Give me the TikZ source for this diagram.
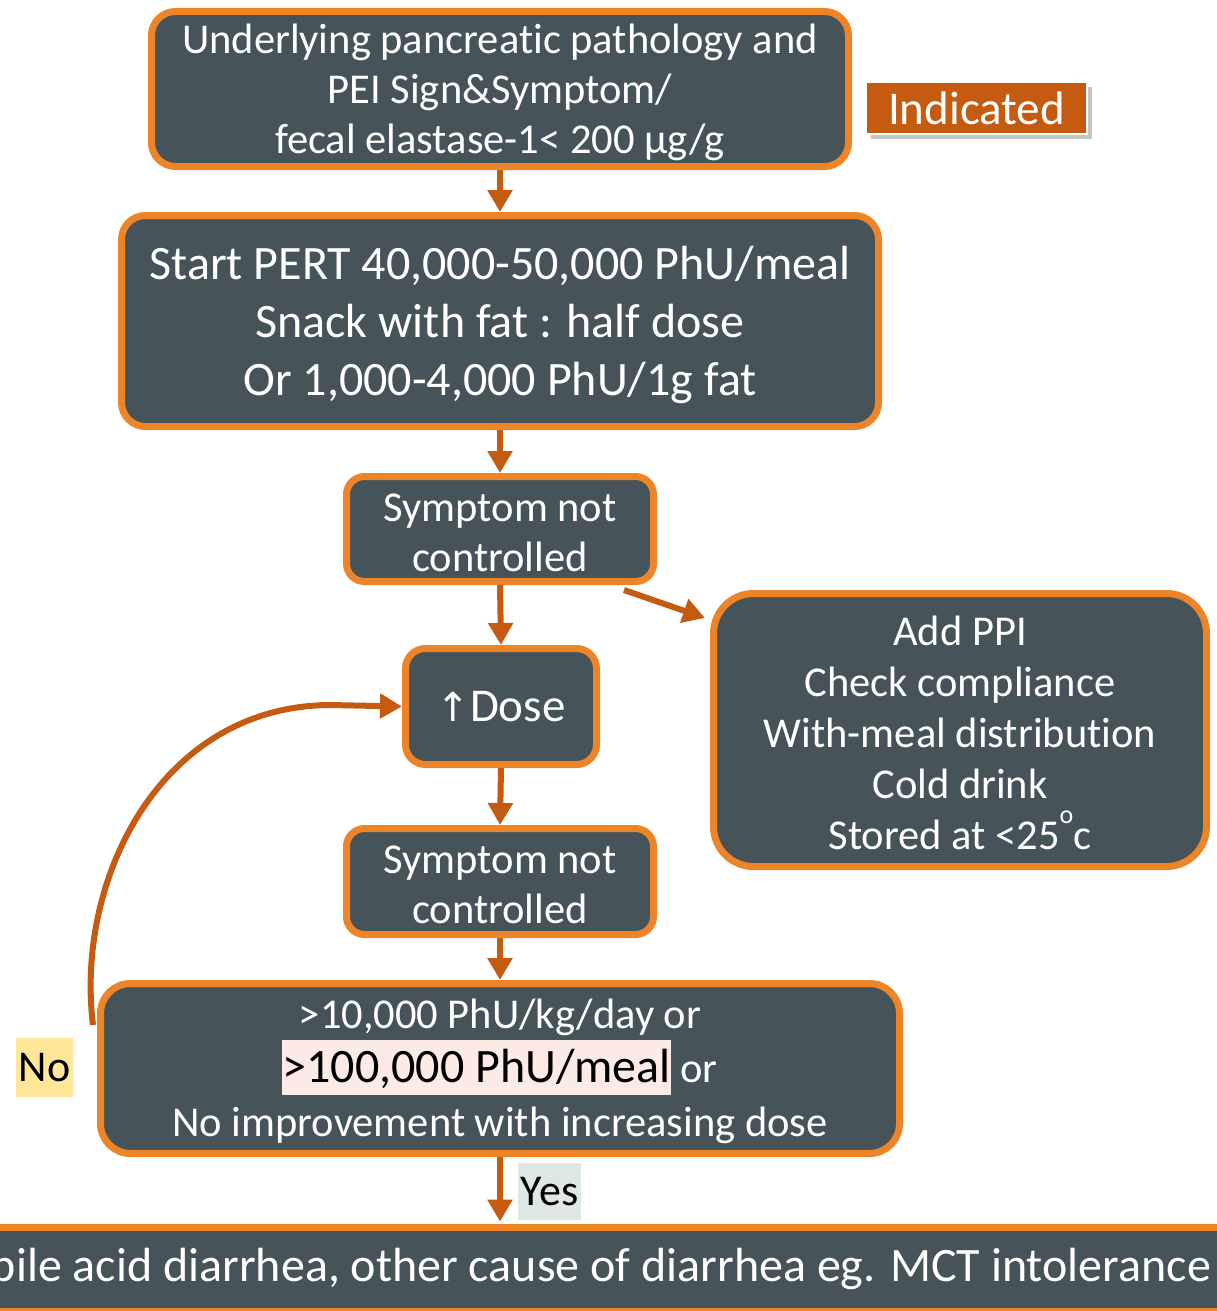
\documentclass[tikz,border=0pt]{standalone}
\usepackage{fontspec}
\setmainfont{Carlito}[Ligatures=NoCommon]
\newfontfamily\symf{DejaVu Sans}
\usetikzlibrary{arrows.meta,shadows,calc}
\definecolor{slate}{RGB}{70,83,89}
\definecolor{orng}{RGB}{237,132,40}
\definecolor{darkorng}{RGB}{197,90,17}
\definecolor{hlpink}{RGB}{251,234,229}
\definecolor{noyel}{RGB}{255,230,153}
\definecolor{yesgray}{RGB}{222,231,227}
\newcommand{\fs}[2]{\fontsize{#1}{#2}\selectfont}
\tikzset{
  box/.style={draw=orng, fill=slate, line width=7pt, rounded corners=24pt, text=white, align=center, inner sep=0pt},
  arr/.style={draw=darkorng, line width=6pt, -{Triangle[length=22pt,width=24pt]}},
  lbl/.style={inner sep=0pt, text=black, anchor=center},
}
\begin{document}
\begin{tikzpicture}[x=1pt,y=-1pt]
\useasboundingbox (0,0) rectangle (1217,1311);
\clip (0,0) rectangle (1217,1311);
\fill[white] (0,0) rectangle (1217,1311);

\node[box, font=\fs{42.5}{50}, minimum width=697pt, minimum height=155pt] (b1) at (500,89)
  {\rule{0pt}{36pt}Underlying pancreatic pathology and\\PEI Sign\&Symptom/\\fecal elastase-1< 200 µg/g};

\node[fill=darkorng, draw=white, line width=2pt, text=white, inner sep=0pt, font=\fs{47}{50},
  minimum width=221pt, minimum height=52pt,
  drop shadow={shadow xshift=5pt, shadow yshift=-5pt, opacity=0.45, fill=gray}] (ind) at (976.5,108)
  {Indicated};

\node[box, font=\fs{48}{58}, minimum width=757pt, minimum height=211pt] (b2) at (500,321)
  {\rule{0pt}{42pt}Start PERT 40,000-50,000 PhU/meal\\Snack with fat : half dose\\Or 1,000-4,000 PhU/1g fat};

\node[box, font=\fs{42.5}{50}, rounded corners=18pt, minimum width=307pt, minimum height=105pt] (b3) at (500,529)
  {\rule{0pt}{35pt}Symptom not\\controlled};

\node[box, font=\fs{47}{50}, rounded corners=20pt, minimum width=191pt, minimum height=116pt] (b4) at (501,706.5)
  {{\symf\fs{40}{50}↑}Dose};

\node[box, font=\fs{42.5}{51}, rounded corners=40pt, minimum width=493pt, minimum height=273pt] (r) at (960,730)
  {\rule{0pt}{35pt}Add PPI\\Check compliance\\With-meal distribution\\Cold drink\\Stored at <25\raisebox{0.62em}{\fs{26}{26}o}c};

\node[box, font=\fs{42.5}{50}, rounded corners=18pt, minimum width=307pt, minimum height=106pt] (b5) at (500,881.5)
  {\rule{0pt}{35pt}Symptom not\\controlled};

\node[box, font=\fs{42.5}{54}, rounded corners=30pt, minimum width=799pt, minimum height=170pt] (b6) at (500,1068.5)
  {\rule{0pt}{36pt}>10,000 PhU/kg/day or\\{\setlength{\fboxsep}{0pt}\colorbox{hlpink}{\rule[-12pt]{0pt}{55pt}\color{black}\fs{48}{54}>100,000 PhU/meal}} or\\No improvement with increasing dose};

\node[draw=orng, fill=slate, line width=7pt, text=white, inner sep=0pt, font=\fs{48}{50},
  minimum width=1260pt, minimum height=84pt] (bar) at (601,1269)
  {bile acid diarrhea, other cause of diarrhea eg. MCT intolerance};

\node[lbl, fill=noyel, font=\fs{44}{48}, minimum width=57pt, minimum height=59pt] (no) at (44.5,1067.5) {No};
\node[lbl, fill=yesgray, font=\fs{44}{48}, minimum width=63pt, minimum height=57pt] (yes) at (549.5,1191.5) {Yes};

\draw[arr] (b1.south) -- (b2.north);
\draw[arr] (b2.south) -- (b3.north);
\draw[arr] (b3.south) -- (b4.north);
\draw[arr] (b4.south) -- (b5.north);
\draw[arr] (b5.south) -- (b6.north);
\draw[arr] (b6.south) -- ($(bar.north)+(-101,-2)$) coordinate (barin);
\draw[arr] ($(b3.south east)+(-33,5)$) -- ($(r.north west)+(-5,28)$);
\draw[arr] ($(b6.north west)+(-4,45)$) .. controls (75,880) and (160,706) .. (330,705) -- (b4.west);
\end{tikzpicture}
\end{document}
